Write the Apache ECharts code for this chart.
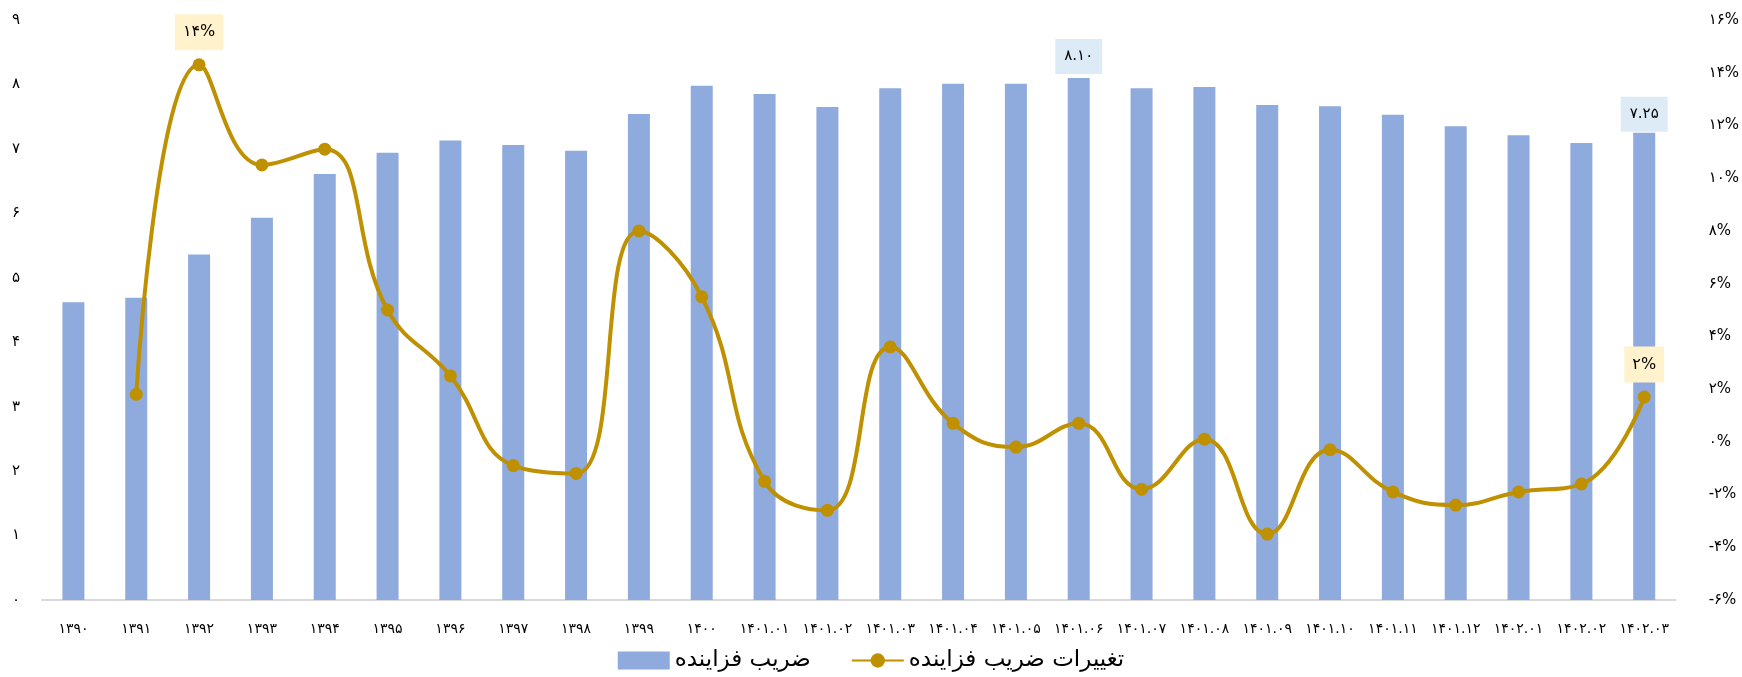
<!DOCTYPE html>
<html>
<head>
<meta charset="utf-8">
<script src="https://cdn.jsdelivr.net/npm/echarts@6/dist/echarts.min.js"></script>
<style>
html,body{margin:0;padding:0;background:#fff;}
#c{width:1742px;height:677px;}
</style>
</head>
<body>
<div id="c"></div>
<script>
const categories = ['۱۳۹۰','۱۳۹۱','۱۳۹۲','۱۳۹۳','۱۳۹۴','۱۳۹۵','۱۳۹۶','۱۳۹۷','۱۳۹۸','۱۳۹۹','۱۴۰۰',
  '۱۴۰۱.۰۱','۱۴۰۱.۰۲','۱۴۰۱.۰۳','۱۴۰۱.۰۴','۱۴۰۱.۰۵','۱۴۰۱.۰۶','۱۴۰۱.۰۷','۱۴۰۱.۰۸','۱۴۰۱.۰۹','۱۴۰۱.۱۰','۱۴۰۱.۱۱','۱۴۰۱.۱۲',
  '۱۴۰۲.۰۱','۱۴۰۲.۰۲','۱۴۰۲.۰۳'];
const multiplier = [4.62, 4.69, 5.36, 5.93, 6.61, 6.94, 7.13, 7.06, 6.97, 7.54, 7.98,
  7.85, 7.65, 7.94, 8.01, 8.01, 8.10, 7.94, 7.96, 7.68, 7.66, 7.53, 7.35,
  7.21, 7.09, 7.25];
const changePct = [null, 1.8, 14.3, 10.5, 11.1, 5.0, 2.5, -0.9, -1.2, 8.0, 5.5,
  -1.5, -2.6, 3.6, 0.7, -0.2, 0.7, -1.8, 0.1, -3.5, -0.3, -1.9, -2.4,
  -1.9, -1.6, 1.7];
const leftTicks = {min: 0, max: 9, interval: 1};
const rightTicks = {min: -6, max: 16, interval: 2};
const barLabelIdx = [16, 25];
const lineLabelIdx = [2, 25];
const seriesNames = ['ضریب فزاینده', 'تغییرات ضریب فزاینده'];

const FA = '۰۱۲۳۴۵۶۷۸۹';
function toFa(s){ return String(s).replace(/[0-9]/g, d => FA[+d]); }

const FONT = 'DejaVu Sans';

const barData = multiplier.map((v, i) => {
  if (barLabelIdx.includes(i)) {
    return {value: v, label: {show: true, position: 'top', distance: i === 16 ? 4 : 1,
      formatter: p => toFa(p.value.toFixed(2)), backgroundColor: '#DDEBF7',
      padding: [10, 9], color: '#000', fontSize: 15, fontFamily: FONT}};
  }
  return v;
});
const lineData = changePct.map((v, i) => {
  if (v !== null && lineLabelIdx.includes(i)) {
    return {value: v, label: {show: true, position: 'top', distance: 8,
      formatter: p => toFa(Math.round(p.value)) + '%', backgroundColor: '#FFF2CC',
      padding: [10, 8], color: '#000', fontSize: 16, fontFamily: FONT}};
  }
  return v;
});

const chart = echarts.init(document.getElementById('c'));
chart.setOption({
  animation: false,
  backgroundColor: '#fff',
  textStyle: {fontFamily: FONT},
  grid: {left: 42, right: 59, top: 20, bottom: 77},
  legend: {
    data: [{name: seriesNames[0], icon: 'rect'}, {name: seriesNames[1]}],
    bottom: 0,
    left: 'center',
    itemWidth: 52, itemHeight: 18, itemGap: 40,
    textStyle: {fontSize: 23, color: '#000', fontFamily: FONT}
  },
  xAxis: {
    type: 'category',
    data: categories,
    axisTick: {show: false},
    axisLine: {lineStyle: {color: '#D9D9D9', width: 2}},
    axisLabel: {color: '#000', fontSize: 14, margin: 22, interval: 0, fontFamily: FONT}
  },
  yAxis: [{
    type: 'value', min: leftTicks.min, max: leftTicks.max, interval: leftTicks.interval,
    splitLine: {show: false}, axisLine: {show: false}, axisTick: {show: false},
    axisLabel: {color: '#000', fontSize: 15, margin: 22, formatter: v => toFa(v), fontFamily: FONT}
  }, {
    type: 'value', min: rightTicks.min, max: rightTicks.max, interval: rightTicks.interval,
    splitLine: {show: false}, axisLine: {show: false}, axisTick: {show: false},
    axisLabel: {color: '#000', fontSize: 15, margin: 33, formatter: v => (v < 0 ? '-' : '') + toFa(Math.abs(v)) + '%', fontFamily: FONT}
  }],
  series: [{
    name: seriesNames[0],
    type: 'bar',
    data: barData,
    barWidth: 22,
    itemStyle: {color: '#8FAADC'},
    z: 1
  }, {
    name: seriesNames[1],
    type: 'line',
    yAxisIndex: 1,
    data: lineData,
    smooth: 0.45,
    symbol: 'circle',
    symbolSize: 13,
    lineStyle: {color: '#BF9000', width: 4},
    itemStyle: {color: '#BF9000'},
    z: 3
  }]
});
</script>
</body>
</html>
